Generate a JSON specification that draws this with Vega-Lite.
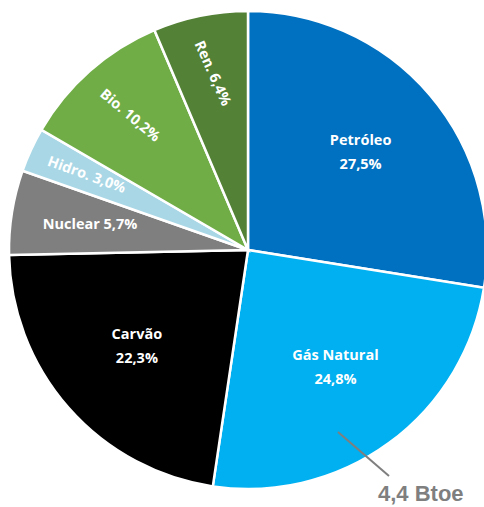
{
  "$schema": "https://vega.github.io/schema/vega-lite/v6.json",
  "width": 480,
  "height": 480,
  "autosize": "none",
  "padding": {"left": 8, "top": 10, "right": 0, "bottom": 17},
  "background": "white",
  "config": {"view": {"stroke": null}, "text": {"font": "Open Sans"}},
  "layer": [
    {
      "data": {"name": "fontes", "values": [
        {"fonte": "Petróleo", "pct": 27.5, "ordem": 1, "label": "Petróleo\n27,5%"},
        {"fonte": "Gás Natural", "pct": 24.8, "ordem": 2, "label": "Gás Natural\n24,8%"},
        {"fonte": "Carvão", "pct": 22.3, "ordem": 3, "label": "Carvão\n22,3%"},
        {"fonte": "Nuclear", "pct": 5.7, "ordem": 4, "label": "Nuclear 5,7%"},
        {"fonte": "Hidro.", "pct": 3.0, "ordem": 5, "label": "Hidro. 3,0%"},
        {"fonte": "Bio.", "pct": 10.2, "ordem": 6, "label": "Bio. 10,2%"},
        {"fonte": "Ren.", "pct": 6.4, "ordem": 7, "label": "Ren. 6,4%"}
      ]},
      "encoding": {
        "theta": {"field": "pct", "type": "quantitative", "stack": true},
        "order": {"field": "ordem", "type": "quantitative"}
      },
      "layer": [
        {
          "mark": {"type": "arc", "outerRadius": 239, "stroke": "white", "strokeWidth": 2.5},
          "encoding": {
            "color": {
              "field": "fonte", "type": "nominal", "legend": null,
              "scale": {
                "domain": ["Petróleo", "Gás Natural", "Carvão", "Nuclear", "Hidro.", "Bio.", "Ren."],
                "range": ["#0070C0", "#00B0F0", "#000000", "#7F7F7F", "#A9D7E6", "#70AD47", "#538135"]
              }
            }
          }
        },
        {
          "mark": {"type": "text", "radius": 148, "dy": -13, "color": "white", "fontWeight": "bold", "fontSize": 14.5, "lineBreak": "\n", "lineHeight": 24, "align": "center", "baseline": "middle"},
          "encoding": {
            "detail": {"field": "fonte"},
            "text": {"condition": {"test": "datum.ordem <= 3", "field": "label"}, "value": ""}
          }
        },
        {
          "mark": {"type": "text", "radius": 160, "color": "white", "fontWeight": "bold", "fontSize": 14.5, "align": "center", "baseline": "middle"},
          "encoding": {
            "detail": {"field": "fonte"},
            "text": {"condition": {"test": "datum.ordem == 4", "field": "label"}, "value": ""}
          }
        },
        {
          "mark": {"type": "text", "radius": 178, "angle": 20, "color": "white", "fontWeight": "bold", "fontSize": 14.5, "align": "center", "baseline": "middle"},
          "encoding": {
            "detail": {"field": "fonte"},
            "text": {"condition": {"test": "datum.ordem == 5", "field": "label"}, "value": ""}
          }
        },
        {
          "mark": {"type": "text", "radius": 179, "angle": 40, "color": "white", "fontWeight": "bold", "fontSize": 14.5, "align": "center", "baseline": "middle"},
          "encoding": {
            "detail": {"field": "fonte"},
            "text": {"condition": {"test": "datum.ordem == 6", "field": "label"}, "value": ""}
          }
        },
        {
          "mark": {"type": "text", "radius": 180, "angle": 66, "color": "white", "fontWeight": "bold", "fontSize": 14.5, "align": "center", "baseline": "middle"},
          "encoding": {
            "detail": {"field": "fonte"},
            "text": {"condition": {"test": "datum.ordem == 7", "field": "label"}, "value": ""}
          }
        }
      ]
    },
    {
      "data": {"values": [{"x": 0.375, "y": -0.758}, {"x": 0.5875, "y": -0.942}]},
      "mark": {"type": "line", "color": "#7F7F7F", "strokeWidth": 2, "clip": false},
      "encoding": {
        "x": {"field": "x", "type": "quantitative", "scale": {"domain": [-1, 1]}, "axis": null},
        "y": {"field": "y", "type": "quantitative", "scale": {"domain": [-1, 1]}, "axis": null}
      }
    },
    {
      "data": {"values": [{"x": 0.72, "y": -1.018, "t": "4,4 Btoe"}]},
      "mark": {"type": "text", "font": "Liberation Sans", "fontWeight": "bold", "fontSize": 22, "color": "#7F7F7F", "align": "center", "baseline": "middle", "clip": false},
      "encoding": {
        "x": {"field": "x", "type": "quantitative", "scale": {"domain": [-1, 1]}, "axis": null},
        "y": {"field": "y", "type": "quantitative", "scale": {"domain": [-1, 1]}, "axis": null},
        "text": {"field": "t"}
      }
    }
  ]
}
